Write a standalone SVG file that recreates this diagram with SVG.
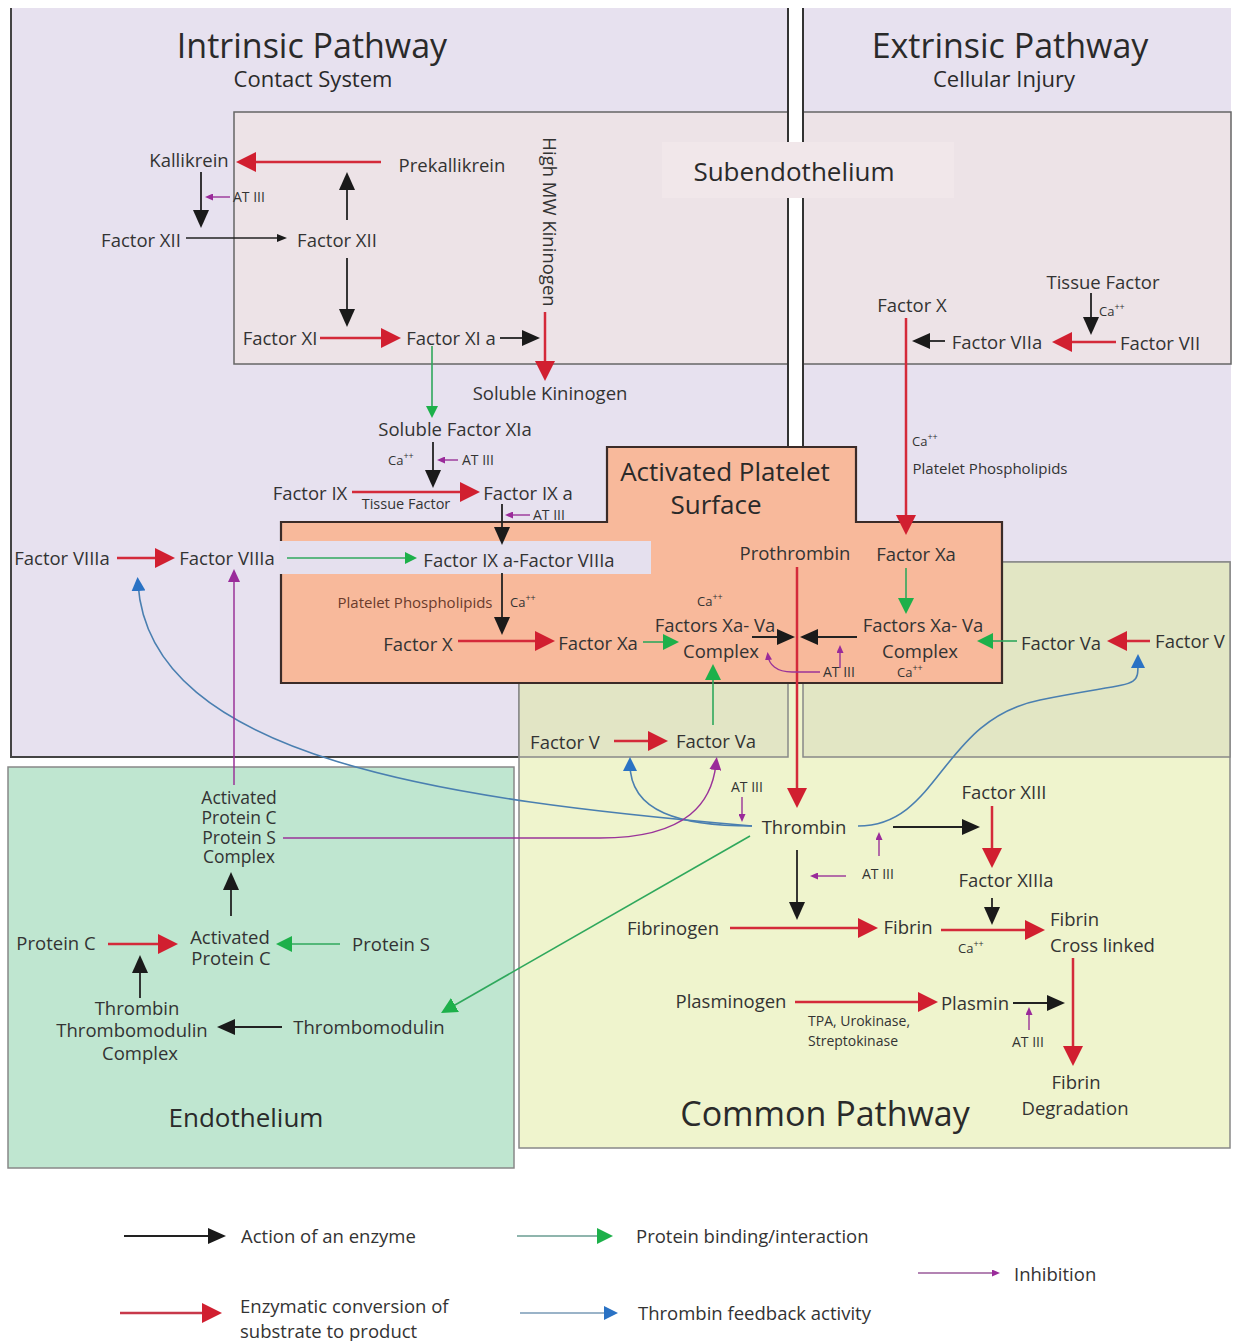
<svg xmlns="http://www.w3.org/2000/svg" width="1233" height="1341" viewBox="0 0 1233 1341">
<style>
text{font-family:"Open Sans","Noto Sans","Liberation Sans",sans-serif;fill:#333}
.n{font-size:18.5px;text-anchor:middle}
.ns{font-size:18.5px}
.nt{font-size:17.5px;text-anchor:middle}
.t1{font-size:34px;text-anchor:middle;fill:#2a2a2a}
.t2{font-size:22px;text-anchor:middle;fill:#2a2a2a}
.t3{font-size:26px;text-anchor:middle;fill:#2a2a2a}
.s{font-size:14px}
.ca{font-size:13px}
.brn{fill:#6a3b2c}
.red{stroke:#d42a3a;stroke-width:2.5;fill:none;marker-end:url(#r)}
.blk{stroke:#222;stroke-width:1.8;fill:none;marker-end:url(#k)}
.blks{stroke:#222;stroke-width:1.4;fill:none;marker-end:url(#ks)}
.grn{stroke:#2fa85c;stroke-width:1.6;fill:none;marker-end:url(#g)}
.grns{stroke:#2fa85c;stroke-width:1.6;fill:none;marker-end:url(#gs)}
.blu{stroke:#4a7fb0;stroke-width:1.6;fill:none;marker-end:url(#b)}
.pur{stroke:#9a3399;stroke-width:1.4;fill:none;marker-end:url(#p)}
.purb{stroke:#9a3399;stroke-width:1.5;fill:none;marker-end:url(#pb)}
</style>
<defs>
<marker id="r" markerUnits="userSpaceOnUse" markerWidth="20" markerHeight="20" refX="10" refY="10" orient="auto"><path d="M0,0 L20,10 L0,20 z" fill="#d11f30"/></marker>
<marker id="k" markerUnits="userSpaceOnUse" markerWidth="18" markerHeight="16" refX="9" refY="8" orient="auto"><path d="M0,0 L18,8 L0,16 z" fill="#1a1a1a"/></marker>
<marker id="ks" markerUnits="userSpaceOnUse" markerWidth="10" markerHeight="8" refX="5" refY="4" orient="auto"><path d="M0,0 L10,4 L0,8 z" fill="#1a1a1a"/></marker>
<marker id="g" markerUnits="userSpaceOnUse" markerWidth="16" markerHeight="16" refX="8" refY="8" orient="auto"><path d="M0,0 L16,8 L0,16 z" fill="#1db04a"/></marker>
<marker id="gs" markerUnits="userSpaceOnUse" markerWidth="12" markerHeight="12" refX="6" refY="6" orient="auto"><path d="M0,0 L12,6 L0,12 z" fill="#1db04a"/></marker>
<marker id="b" markerUnits="userSpaceOnUse" markerWidth="14" markerHeight="14" refX="7" refY="7" orient="auto"><path d="M0,0 L14,7 L0,14 z" fill="#2a72c4"/></marker>
<marker id="p" markerUnits="userSpaceOnUse" markerWidth="8" markerHeight="7" refX="4" refY="3.5" orient="auto"><path d="M0,0 L8,3.5 L0,7 z" fill="#9a2a9a"/></marker>
<marker id="pb" markerUnits="userSpaceOnUse" markerWidth="13" markerHeight="12" refX="6" refY="6" orient="auto"><path d="M0,0 L13,6 L0,12 z" fill="#9a2a9a"/></marker>
</defs>
<rect width="1233" height="1341" fill="#ffffff"/>
<g id="regions">
<rect x="11" y="8" width="777" height="749" fill="#e7e1ef"/>
<path d="M11,8 L11,757 L519,757" fill="none" stroke="#444" stroke-width="2"/>
<rect x="803" y="8" width="428" height="554" fill="#e7e1ef"/>
<rect x="234" y="112" width="997" height="252" fill="#ede3e7" stroke="#666" stroke-width="1.5"/>
<rect x="789" y="8" width="13" height="675" fill="#ffffff"/>
<line x1="788" y1="8" x2="788" y2="757" stroke="#333" stroke-width="2"/>
<line x1="803" y1="8" x2="803" y2="757" stroke="#333" stroke-width="2"/>
<rect x="662" y="142" width="292" height="56" fill="#f1e7ea"/>
<rect x="519" y="562" width="711" height="586" fill="#eff4cd" stroke="#888" stroke-width="1.5"/>
<rect x="519" y="683" width="269" height="74" fill="#e2e5c5" stroke="#888" stroke-width="1.5"/>
<rect x="803" y="562" width="427" height="195" fill="#e2e6c4" stroke="#888" stroke-width="1.5"/>
<rect x="8" y="767" width="506" height="401" fill="#bfe6d0" stroke="#888" stroke-width="1.5"/>
<polygon points="281,522 607,522 607,447 856,447 856,522 1002,522 1002,683 281,683" fill="#f8b99b" stroke="#3b2b28" stroke-width="2.2"/>
<rect x="279" y="541" width="372" height="33" fill="#e5e0ee"/>
</g>
<g id="titles">
<text class="t1" x="312" y="58">Intrinsic Pathway</text>
<text class="t2" x="313" y="87">Contact System</text>
<text class="t1" x="1010" y="58">Extrinsic Pathway</text>
<text class="t2" x="1004" y="87">Cellular Injury</text>
<text class="t3" x="794" y="181">Subendothelium</text>
<text class="t3" x="725" y="481">Activated Platelet</text>
<text class="t3" x="716" y="514">Surface</text>
<text class="t3" x="246" y="1127">Endothelium</text>
<text class="t1" x="825" y="1126">Common Pathway</text>
</g>
<g id="connectors">
<path class="red" d="M381,162 L246,162"/>
<path class="red" d="M320,338 L391,338"/>
<path class="red" d="M545,312 L545,371"/>
<path class="red" d="M352,492 L470,492"/>
<path class="red" d="M117,558 L165,558"/>
<path class="red" d="M458,641 L545,641"/>
<path class="red" d="M906,318 L906,525"/>
<path class="red" d="M1116,342 L1062,342"/>
<path class="red" d="M1150,641 L1117,641"/>
<path class="red" d="M797,567 L797,798"/>
<path class="red" d="M614,741 L658,741"/>
<path class="red" d="M992,806 L992,858"/>
<path class="red" d="M730,928 L868,928"/>
<path class="red" d="M941,930 L1035,930"/>
<path class="red" d="M795,1002 L928,1002"/>
<path class="red" d="M1073,958 L1073,1056"/>
<path class="red" d="M108,944 L168,944"/>
<path class="blk" d="M201,172 L201,219"/>
<path class="blks" d="M186,238 L282,238"/>
<path class="blk" d="M347,220 L347,181"/>
<path class="blk" d="M347,258 L347,318"/>
<path class="blk" d="M500,338 L531,338"/>
<path class="blk" d="M433,442 L433,479"/>
<path class="blk" d="M502,504 L502,536"/>
<path class="blk" d="M502,573 L502,626"/>
<path class="blk" d="M945,341 L921,341"/>
<path class="blk" d="M1091,293 L1091,326"/>
<path class="blk" d="M752,637 L786,637"/>
<path class="blk" d="M857,637 L809,637"/>
<path class="blk" d="M893,827 L971,827"/>
<path class="blk" d="M797,850 L797,911"/>
<path class="blk" d="M992,898 L992,916"/>
<path class="blk" d="M1013,1003 L1056,1003"/>
<path class="blk" d="M231,916 L231,881"/>
<path class="blk" d="M140,998 L140,964"/>
<path class="blk" d="M282,1027 L226,1027"/>
<path class="grns" d="M432,346 L432,412"/>
<path class="grns" d="M287,558 L411,558"/>
<path class="grn" d="M643,642 L671,642"/>
<path class="grn" d="M713,725 L713,672"/>
<path class="grn" d="M906,568 L906,606"/>
<path class="grn" d="M1017,641 L985,641"/>
<path class="grn" d="M750,836 L448,1009"/>
<path class="grn" d="M340,944 L284,944"/>
<path class="blu" d="M752,826 C450,800 150,760 138,584"/>
<path class="blu" d="M752,826 C680,826 630,812 630,764"/>
<path class="blu" d="M858,826 C940,826 940,720 1040,700 S1138,690 1138,661"/>
<path class="purb" d="M234,785 L234,576"/>
<path class="purb" d="M283,838 L600,838 C690,838 712,800 716,764"/>
<path class="pur" d="M820,672 L792,672 C776,672 769,664 768,656"/>
<path class="pur" d="M840,668 L840,649"/>
<path class="pur" d="M230,197 L209,197"/>
<path class="pur" d="M458,460 L441,460"/>
<path class="pur" d="M530,515 L509,515"/>
<path class="pur" d="M742,797 L742,818"/>
<path class="pur" d="M846,876 L814,876"/>
<path class="pur" d="M879,856 L879,836"/>
<path class="pur" d="M1029,1030 L1029,1011"/>
</g>
<g id="intrinsic-nodes">
<g id="n-kallikrein"><text class="n" x="189" y="167">Kallikrein</text></g>
<g id="n-prekallikrein"><text class="n" x="452" y="172">Prekallikrein</text></g>
<g id="n-at3-a"><text class="s" x="233" y="202">AT III</text></g>
<g id="n-f12"><text class="n" x="141" y="247">Factor XII</text></g>
<g id="n-f12b"><text class="n" x="337" y="247">Factor XII</text></g>
<g id="n-f11"><text class="n" x="280" y="345">Factor XI</text></g>
<g id="n-f11a"><text class="n" x="451" y="345">Factor XI a</text></g>
<g id="n-hmwk"><text class="n" transform="translate(543,222) rotate(90)">High MW Kininogen</text></g>
<g id="n-solkin"><text class="n" x="550" y="400">Soluble Kininogen</text></g>
<g id="n-solf11a"><text class="n" x="455" y="436">Soluble Factor XIa</text></g>
<g id="n-ca1"><text class="ca" x="388" y="465">Ca<tspan dy="-6" font-size="9">++</tspan></text></g>
<g id="n-at3-b"><text class="s" x="462" y="465">AT III</text></g>
<g id="n-f9"><text class="n" x="310" y="500">Factor IX</text></g>
<g id="n-tf1"><text class="s" x="406" y="509" text-anchor="middle" style="font-size:14.5px">Tissue Factor</text></g>
<g id="n-f9a"><text class="n" x="528" y="500">Factor IX a</text></g>
<g id="n-at3-c"><text class="s" x="533" y="520">AT III</text></g>
<g id="n-f8a1"><text class="n" x="62" y="565">Factor VIIIa</text></g>
<g id="n-f8a2"><text class="n" x="227" y="565">Factor VIIIa</text></g>
<g id="n-f9af8a"><text class="n" x="519" y="567">Factor IX a-Factor VIIIa</text></g>
<g id="n-pp1"><text class="s brn" x="415" y="608" text-anchor="middle" style="font-size:15px">Platelet Phospholipids</text></g>
<g id="n-ca2"><text class="ca" x="510" y="607">Ca<tspan dy="-6" font-size="9">++</tspan></text></g>
<g id="n-f10"><text class="n" x="418" y="651">Factor X</text></g>
<g id="n-f10a"><text class="n" x="598" y="650">Factor Xa</text></g>
</g>
<g id="platelet-nodes">
<g id="n-ca3"><text class="ca" x="697" y="606">Ca<tspan dy="-6" font-size="9">++</tspan></text></g>
<g id="n-complex1"><text class="n" x="715" y="632">Factors Xa- Va</text><text class="n" x="721" y="658">Complex</text></g>
<g id="n-prothrombin"><text class="n" x="795" y="560">Prothrombin</text></g>
<g id="n-f10a-r"><text class="n" x="916" y="561">Factor Xa</text></g>
<g id="n-complex2"><text class="n" x="923" y="632">Factors Xa- Va</text><text class="n" x="920" y="658">Complex</text></g>
<g id="n-ca4"><text class="ca" x="897" y="677">Ca<tspan dy="-6" font-size="9">++</tspan></text></g>
<g id="n-at3-d"><text class="s" x="823" y="677">AT III</text></g>
<g id="n-f5a-r"><text class="n" x="1061" y="650">Factor Va</text></g>
<g id="n-f5-r"><text class="n" x="1190" y="648">Factor V</text></g>
</g>
<g id="extrinsic-nodes">
<g id="n-f10-ext"><text class="n" x="912" y="312">Factor X</text></g>
<g id="n-tf2"><text class="n" x="1103" y="289">Tissue Factor</text></g>
<g id="n-ca5"><text class="ca" x="1099" y="316">Ca<tspan dy="-6" font-size="9">++</tspan></text></g>
<g id="n-f7a"><text class="n" x="997" y="349">Factor VIIa</text></g>
<g id="n-f7"><text class="n" x="1160" y="350">Factor VII</text></g>
<g id="n-ca6"><text class="ca" x="912" y="446">Ca<tspan dy="-6" font-size="9">++</tspan></text></g>
<g id="n-pp2"><text class="s" x="990" y="474" text-anchor="middle" style="font-size:15px">Platelet Phospholipids</text></g>
</g>
<g id="common-nodes">
<g id="n-f5"><text class="n" x="565" y="749">Factor V</text></g>
<g id="n-f5a"><text class="n" x="716" y="748">Factor Va</text></g>
<g id="n-at3-e"><text class="s" x="731" y="792">AT III</text></g>
<g id="n-thrombin"><text class="n" x="804" y="834">Thrombin</text></g>
<g id="n-f13"><text class="n" x="1004" y="799">Factor XIII</text></g>
<g id="n-f13a"><text class="n" x="1006" y="887">Factor XIIIa</text></g>
<g id="n-at3-f"><text class="s" x="862" y="879">AT III</text></g>
<g id="n-fibrinogen"><text class="n" x="673" y="935">Fibrinogen</text></g>
<g id="n-fibrin"><text class="n" x="908" y="934">Fibrin</text></g>
<g id="n-ca7"><text class="ca" x="958" y="953">Ca<tspan dy="-6" font-size="9">++</tspan></text></g>
<g id="n-fibrin-cl"><text class="ns" x="1050" y="926">Fibrin</text><text class="ns" x="1050" y="952">Cross linked</text></g>
<g id="n-plasminogen"><text class="n" x="731" y="1008">Plasminogen</text></g>
<g id="n-plasmin"><text class="n" x="975" y="1010">Plasmin</text></g>
<g id="n-tpa"><text class="s" x="808" y="1026">TPA, Urokinase,</text><text class="s" x="808" y="1046">Streptokinase</text></g>
<g id="n-at3-g"><text class="s" x="1012" y="1047">AT III</text></g>
<g id="n-fibrin-deg"><text class="n" x="1076" y="1089">Fibrin</text><text class="n" x="1075" y="1115">Degradation</text></g>
</g>
<g id="endothelium-nodes">
<g id="n-apcps"><text class="nt" x="239" y="804">Activated</text><text class="nt" x="239" y="824">Protein C</text><text class="nt" x="239" y="844">Protein S</text><text class="nt" x="239" y="863">Complex</text></g>
<g id="n-proteinc"><text class="n" x="56" y="950">Protein C</text></g>
<g id="n-apc"><text class="n" x="230" y="944">Activated</text><text class="n" x="231" y="965">Protein C</text></g>
<g id="n-proteins"><text class="n" x="391" y="951">Protein S</text></g>
<g id="n-ttc"><text class="n" x="137" y="1015">Thrombin</text><text class="n" x="132" y="1037">Thrombomodulin</text><text class="n" x="140" y="1060">Complex</text></g>
<g id="n-thrombomodulin"><text class="n" x="369" y="1034">Thrombomodulin</text></g>
</g>
<g id="legend">
<path d="M124,1236 L217,1236" stroke="#222" stroke-width="2" fill="none" marker-end="url(#k)"/>
<text class="ns" x="241" y="1243">Action of an enzyme</text>
<path d="M120,1313 L212,1313" stroke="#c8384a" stroke-width="2.5" fill="none" marker-end="url(#r)"/>
<text class="ns" x="240" y="1313">Enzymatic conversion of</text>
<text class="ns" x="240" y="1338">substrate to product</text>
<path d="M517,1236 L605,1236" stroke="#8fb5ad" stroke-width="2" fill="none" marker-end="url(#g)"/>
<text class="ns" x="636" y="1243">Protein binding/interaction</text>
<path d="M520,1313 L611,1313" stroke="#9ab3c8" stroke-width="2" fill="none" marker-end="url(#b)"/>
<text class="ns" x="638" y="1320">Thrombin feedback activity</text>
<path d="M918,1273 L996,1273" stroke="#9a5a9a" stroke-width="1.4" fill="none" marker-end="url(#p)"/>
<text class="ns" x="1014" y="1281">Inhibition</text>
</g>
</svg>
